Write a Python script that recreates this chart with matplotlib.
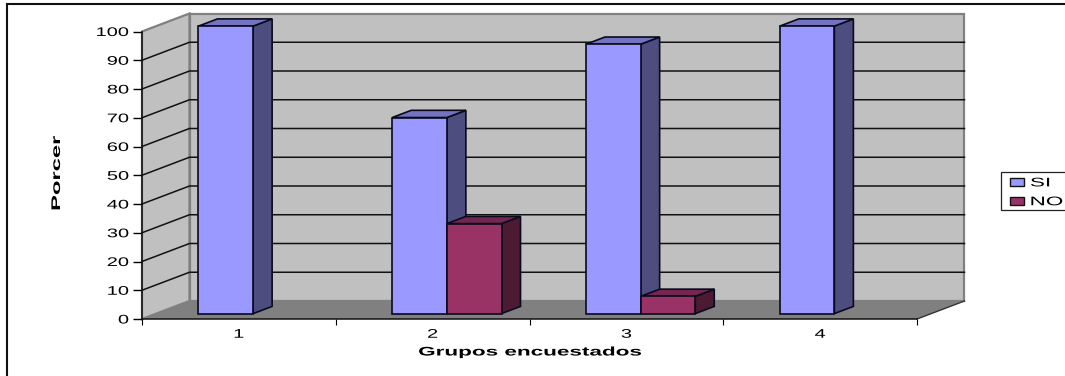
#!/usr/bin/env python3
# -*- coding: utf-8 -*-

import matplotlib
matplotlib.use("Agg")

import matplotlib.pyplot as plt
import matplotlib.patheffects as pe
from matplotlib.lines import Line2D
from matplotlib.patches import Patch, Polygon, Rectangle
from matplotlib.transforms import Affine2D

plt.rcParams['font.family'] = ['Liberation Sans', 'DejaVu Sans']

groups = [1, 2, 3, 4]
si_values = [100, 68.2, 93.7, 100]
no_values = [0, 31.3, 6, 0]
y_ticks = [0, 10, 20, 30, 40, 50, 60, 70, 80, 90, 100]

# face, side, top
si_colors = ('#9999FF', '#4D4D80', '#7373BF')
no_colors = ('#993366', '#4D1A33', '#732650')

WIDTH, HEIGHT = 1065, 376
# depth of the 3D box, in pixels
DEPTH_X, DEPTH_Y = 47.5, 18.0
BAR_WIDTH = 0.282
BAR_FRONT, BAR_BACK = 0.3, 0.7


class Stretch(pe.AbstractPathEffect):
    # Widens the glyph outlines around one side of the text
    def __init__(self, sx=1.0, sy=1.0, anchor='center'):
        super().__init__()
        self.sx, self.sy, self.anchor = sx, sy, anchor

    def draw_path(self, renderer, gc, tpath, affine, rgbFace=None):
        box = tpath.transformed(affine).get_extents()
        cx = {'left': box.x0, 'center': (box.x0 + box.x1) / 2, 'right': box.x1}[self.anchor]
        cy = (box.y0 + box.y1) / 2
        scale = Affine2D().translate(-cx, -cy).scale(self.sx, self.sy).translate(cx, cy)
        renderer.draw_path(gc, tpath, affine + scale, rgbFace)


fig = plt.figure(figsize=(WIDTH / 100, HEIGHT / 100), dpi=100)
ax = fig.add_axes([142 / WIDTH, 1 - 319 / HEIGHT, 775 / WIDTH, 287.5 / HEIGHT])
ax.set_xlim(0.5, 4.5)
ax.set_ylim(0, 100)
ax.patch.set_visible(False)

# one pixel in data units
px_x = 4.0 / 775
px_y = 100 / 287.5
dx = DEPTH_X * px_x
dy = DEPTH_Y * px_y


def poly(points, face, edge='none', lw=0.0, z=1):
    ax.add_patch(Polygon(points, closed=True, facecolor=face, edgecolor=edge,
                         linewidth=lw, zorder=z, clip_on=False, joinstyle='miter'))


# walls and floor
x0, x1 = 0.5, 4.5
poly([(x0, 0), (x0 + dx, dy), (x0 + dx, 100 + dy), (x0, 100)], '#C0C0C0', '#808080', 1.6)
poly([(x0 + dx, dy), (x1 + dx, dy), (x1 + dx, 100 + dy), (x0 + dx, 100 + dy)], '#C0C0C0', '#808080', 1.6)
poly([(x0, 0), (x0 + dx, dy), (x1 + dx, dy), (x1, 0)], '#808080', z=1.5)

# gridlines run along the side wall and the back wall
for v in y_ticks[1:-1]:
    ax.plot([x0, x0 + dx, x1 + dx], [v, v + dy, v + dy], color='#111111', lw=1.1,
            zorder=2, clip_on=False, solid_joinstyle='miter')
ax.plot([x1, x1 + dx], [0, dy], color='#333333', lw=1.0, zorder=2, clip_on=False)


def bar3d(left, width, value, colors, z):
    fx, bx = BAR_FRONT * dx, BAR_BACK * dx
    fy, by = BAR_FRONT * dy, BAR_BACK * dy
    right = left + width
    kw = dict(edge='#0A0A1E', lw=1.2, z=z)
    poly([(right + fx, fy), (right + bx, by), (right + bx, value + by), (right + fx, value + fy)], colors[1], **kw)
    poly([(left + fx, value + fy), (right + fx, value + fy), (right + bx, value + by), (left + bx, value + by)], colors[2], **kw)
    poly([(left + fx, fy), (right + fx, fy), (right + fx, value + fy), (left + fx, value + fy)], colors[0], **kw)


for g, si, no in zip(groups, si_values, no_values):
    bar3d(g - BAR_WIDTH, BAR_WIDTH, si, si_colors, 3)
    if no > 0:
        bar3d(g, BAR_WIDTH, no, no_colors, 4)

# axes
ax.spines['top'].set_visible(False)
ax.spines['right'].set_visible(False)
for side in ('left', 'bottom'):
    ax.spines[side].set_linewidth(1.1)
    ax.spines[side].set_color('#111111')
    ax.spines[side].set_zorder(5)

stretch_tick = [Stretch(sx=1.6, anchor='right')]
ax.set_yticks(y_ticks)
ax.tick_params(axis='y', length=6.5, width=1.0, pad=3, labelsize=9)
for lab in ax.get_yticklabels():
    lab.set_path_effects(stretch_tick)

ax.set_xticks([0.5, 1.5, 2.5, 3.5, 4.5])
ax.set_xticklabels([])
ax.tick_params(axis='x', which='major', length=4, width=0.8)
ax.set_xticks(groups, minor=True)
ax.set_xticklabels([str(g) for g in groups], minor=True, fontsize=9)
ax.tick_params(axis='x', which='minor', length=0, pad=7)
for lab in ax.get_xticklabels(minor=True):
    lab.set_path_effects([Stretch(sx=1.6)])

fig.text(57 / WIDTH, 1 - 173 / HEIGHT, 'Porcer', rotation=90, ha='center', va='center',
         fontsize=9, fontweight='bold', path_effects=[Stretch(sy=1.9)])
fig.text(530 / WIDTH, 1 - 352.5 / HEIGHT, 'Grupos encuestados', ha='center', va='center',
         fontsize=9, fontweight='bold', path_effects=[Stretch(sx=1.8)])

# legend runs past the right side of the figure
fig.add_artist(Rectangle((1001 / WIDTH, 1 - 210 / HEIGHT), 80 / WIDTH, 38 / HEIGHT,
                         transform=fig.transFigure, facecolor='white',
                         edgecolor='#222222', linewidth=0.9))
handles = [Patch(facecolor=si_colors[0], edgecolor='#111111', linewidth=1.0, label='SI'),
           Patch(facecolor=no_colors[0], edgecolor='#111111', linewidth=1.0, label='NO')]
leg = fig.legend(handles=handles, loc='upper left', bbox_to_anchor=(1006 / WIDTH, 1 - 173 / HEIGHT),
                 frameon=False, fontsize=9, handlelength=1.05, handleheight=0.6,
                 handletextpad=0.55, labelspacing=0.55, borderpad=0.35, borderaxespad=0)
for txt in leg.get_texts():
    txt.set_path_effects([Stretch(sx=1.8, anchor='left')])

# outer border, open at the right and bottom
fig.add_artist(Line2D([7 / WIDTH, 7 / WIDTH, 1.0], [0, 1 - 4 / HEIGHT, 1 - 4 / HEIGHT],
                      color='#111111', lw=1.5, solid_joinstyle='miter'))

fig.savefig('out.png', dpi=100)
